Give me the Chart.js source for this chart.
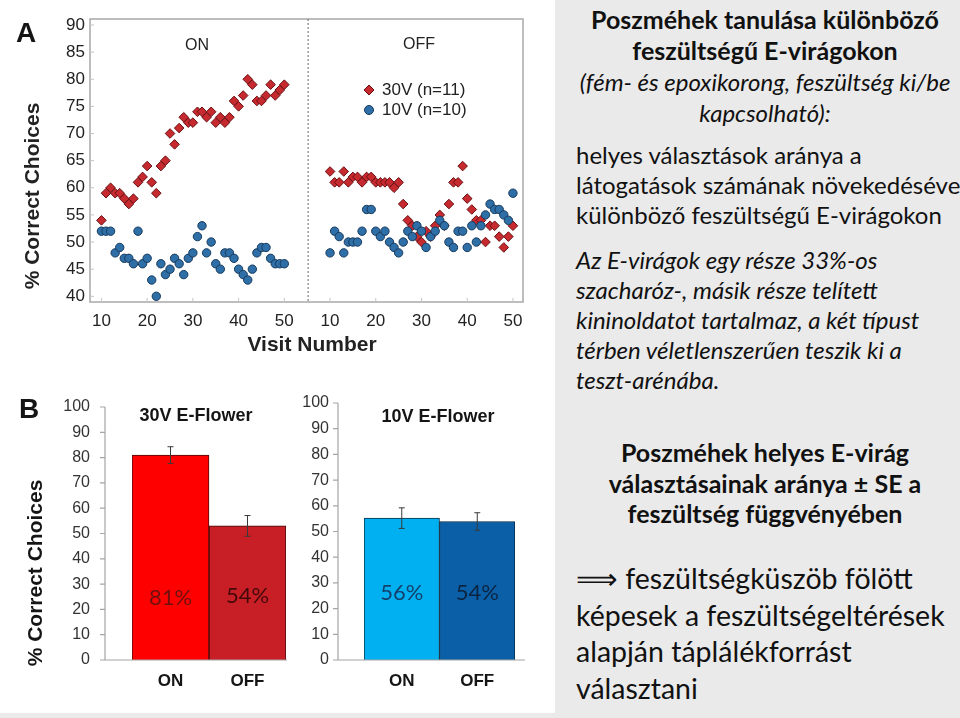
<!DOCTYPE html>
<html>
<head>
<meta charset="utf-8">
<script src="https://cdn.jsdelivr.net/npm/chart.js@4.4.0/dist/chart.umd.min.js"></script>
<style>
html, body { margin: 0; padding: 0; }
body { width: 960px; height: 718px; background: #eaeaea; position: relative; overflow: hidden; font-family: Lato, sans-serif; color: #111; }
#left { position: absolute; left: 0; top: 0; width: 555px; height: 713px; background: #fff; }
canvas { position: absolute; }
.panel { position: absolute; font-family: "Liberation Sans", Arial, sans-serif; font-weight: bold; font-size: 28px; color: #151515; }
.txt { position: absolute; white-space: nowrap; }
</style>
</head>
<body>
<div id="left"></div>
<canvas id="scatter" width="550" height="365" style="left:0;top:0"></canvas>
<canvas id="bar30" width="290" height="333" style="left:0;top:380px"></canvas>
<canvas id="bar10" width="270" height="333" style="left:280px;top:380px"></canvas>
<div class="panel" style="left:16px;top:17px">A</div>
<div class="panel" style="left:19px;top:393px">B</div>

<div class="txt" style="left:570px;top:4px;width:390px;text-align:center;font-size:24px;line-height:31px;">
<b style="font-size:25px">Poszméhek tanulása különböző<br>feszültségű E-virágokon</b><br>
<i>(fém- és epoxikorong, feszültség ki/be<br>kapcsolható):</i>
</div>
<div class="txt" style="left:576px;top:140px;font-size:24px;line-height:30px;">
helyes választások aránya a<br>látogatások számának növekedésével<br>különböző feszültségű E-virágokon
</div>
<div class="txt" style="left:576px;top:245px;font-size:24px;line-height:30px;font-style:italic;">
Az E-virágok egy része 33%-os<br>szacharóz-, másik része telített<br>kininoldatot tartalmaz, a két típust<br>térben véletlenszerűen teszik ki a<br>teszt-arénába.
</div>
<div class="txt" style="left:570px;top:437px;width:390px;text-align:center;font-size:25px;line-height:30.5px;font-weight:bold;">
Poszméhek helyes E-virág<br>választásainak aránya ± SE a<br>feszültség függvényében
</div>
<div class="txt" style="left:576px;top:560px;font-size:28.5px;line-height:36.7px;">
⟹ feszültségküszöb fölött<br>képesek a feszültségeltérések<br>alapján táplálékforrást<br>választani
</div>

<script>
// ---- panel A data: % correct choices per visit ----
const visits = [10,11,12,13,14,15,16,17,18,19,20,21,22,23,24,25,26,27,28,29,30,
                31,32,33,34,35,36,37,38,39,40,41,42,43,44,45,46,47,48,49,50];
const on30  = [54,59,60,59,59,58,57,58,61,62,64,61,59,64,65,70,68,71,73,72,72,
               74,74,73,74,72,73,72,73,76,75,77,80,79,76,76,77,79,77,78,79];
const on10  = [52,52,52,48,49,47,47,46,52,46,47,43,40,46,44,45,47,46,44,47,48,
               51,53,48,50,46,45,48,48,47,45,44,43,45,48,49,49,47,46,46,46];
const off30 = [63,61,61,63,61,62,62,61,62,62,61,61,61,61,60,61,57,54,53,51,50,
               52,51,53,55,53,57,61,61,64,58,56,54,54,50,53,53,51,49,51,53];
const off10 = [48,52,51,48,50,50,50,52,56,56,52,51,52,50,49,48,50,52,51,53,52,
               49,51,52,54,53,50,49,52,52,49,53,50,53,55,57,56,56,55,54,59];
const xTicks = [10,20,30,40,50,60,70,80,90,100];
const yTicks = [40,45,50,55,60,65,70,75,80,85,90];
const OFF_SHIFT = 50;     // OFF visits sit right of ON visits on one axis
const DIVIDER_AT = 55.2;

// ---- panel B data ----
const barCats = ['ON', 'OFF'];
const bar30 = [81, 53];
const err30 = [3.3, 4.1];
const pct30 = ['81%', '54%'];
const bar10 = [55.2, 53.9];
const err10 = [4, 3.4];
const pct10 = ['56%', '54%'];
const barTicks = [0,10,20,30,40,50,60,70,80,90,100];

Chart.defaults.font.family = '"Liberation Sans", Arial, sans-serif';
Chart.defaults.color = '#222';

const RED = '#c62a2f', RED_EDGE = '#6a1014';
const BLUE = '#2f6fa8', BLUE_EDGE = '#173a5c';

function pts(ys, shift){ return visits.map((v, i) => ({ x: v + shift, y: ys[i] })); }

// keep tick padding from growing the chart area
function noPad(s){ s.paddingTop = 0; s.paddingBottom = 0; s.paddingLeft = 0; s.paddingRight = 0; }

const scatterDecor = {
  id: 'scatterDecor',
  beforeDatasetsDraw(chart){
    const { ctx, chartArea: a, scales: { x, y } } = chart;
    ctx.save();
    ctx.strokeStyle = '#a8a8a8'; ctx.lineWidth = 1.5;
    ctx.strokeRect(a.left, a.top, a.right - a.left, a.bottom - a.top);
    ctx.lineWidth = 1; ctx.strokeStyle = '#c4c4c4';
    yTicks.forEach(v => {
      const py = y.getPixelForValue(v);
      ctx.beginPath(); ctx.moveTo(a.left, py); ctx.lineTo(a.left + 4, py); ctx.stroke();
    });
    xTicks.forEach(v => {
      const px = x.getPixelForValue(v);
      ctx.beginPath(); ctx.moveTo(px, a.bottom); ctx.lineTo(px, a.bottom - 4); ctx.stroke();
    });
    const dx = x.getPixelForValue(DIVIDER_AT);
    ctx.setLineDash([2, 2]); ctx.strokeStyle = '#666';
    ctx.beginPath(); ctx.moveTo(dx, a.top); ctx.lineTo(dx, a.bottom); ctx.stroke();
    ctx.restore();
  },
  afterDraw(chart){
    const { ctx } = chart;
    ctx.save();
    ctx.fillStyle = '#222';
    ctx.textAlign = 'center'; ctx.textBaseline = 'middle';
    ctx.font = '16px "Liberation Sans", Arial';
    ctx.fillText('ON', 197, 46);
    ctx.fillText('OFF', 419, 45);
    ctx.font = 'bold 21px "Liberation Sans", Arial';
    ctx.fillText('Visit Number', 312, 345);
    ctx.save();
    ctx.translate(33, 196); ctx.rotate(-Math.PI / 2);
    ctx.fillText('% Correct Choices', 0, 0);
    ctx.restore();
    // legend
    ctx.fillStyle = RED; ctx.strokeStyle = RED_EDGE; ctx.lineWidth = 1;
    ctx.beginPath(); ctx.moveTo(369, 85); ctx.lineTo(374, 90); ctx.lineTo(369, 95); ctx.lineTo(364, 90); ctx.closePath();
    ctx.fill(); ctx.stroke();
    ctx.fillStyle = BLUE; ctx.strokeStyle = BLUE_EDGE;
    ctx.beginPath(); ctx.arc(369, 110, 4.5, 0, Math.PI * 2); ctx.fill(); ctx.stroke();
    ctx.fillStyle = '#222'; ctx.textAlign = 'left';
    ctx.font = '17px "Liberation Sans", Arial';
    ctx.fillText('30V (n=11)', 382, 90);
    ctx.fillText('10V (n=10)', 382, 110);
    ctx.restore();
  }
};

const redStyle = { pointStyle: 'rectRot', pointRadius: 4.8, backgroundColor: RED, borderColor: RED_EDGE, borderWidth: 1, order: 2 };
const blueStyle = { pointStyle: 'circle', pointRadius: 4.2, backgroundColor: BLUE, borderColor: BLUE_EDGE, borderWidth: 1, order: 1 };

new Chart(document.getElementById('scatter'), {
  type: 'scatter',
  data: {
    datasets: [
      Object.assign({ label: '30V ON', data: pts(on30, 0) }, redStyle),
      Object.assign({ label: '30V OFF', data: pts(off30, OFF_SHIFT) }, redStyle),
      Object.assign({ label: '10V ON', data: pts(on10, 0) }, blueStyle),
      Object.assign({ label: '10V OFF', data: pts(off10, OFF_SHIFT) }, blueStyle)
    ]
  },
  options: {
    responsive: false, animation: false,
    layout: { padding: { top: 19, right: 27, left: 0, bottom: 0 } },
    plugins: { legend: { display: false }, tooltip: { enabled: false } },
    scales: {
      x: {
        type: 'linear', min: 7.5, max: 102.2,
        grid: { display: false, drawTicks: false }, border: { display: false },
        afterBuildTicks: s => { s.ticks = xTicks.map(v => ({ value: v })); },
        afterFit: s => { s.height = 63; noPad(s); },
        ticks: { padding: 9, autoSkip: false, maxRotation: 0, font: { size: 17 }, color: '#222',
                 callback: v => v > DIVIDER_AT ? v - OFF_SHIFT : v }
      },
      y: {
        min: 38.95, max: 91.1,
        grid: { display: false, drawTicks: false }, border: { display: false },
        afterBuildTicks: s => { s.ticks = yTicks.map(v => ({ value: v })); },
        afterFit: s => { s.width = 90; noPad(s); },
        ticks: { padding: 5, autoSkip: false, font: { size: 17 }, color: '#222' }
      }
    }
  },
  plugins: [scatterDecor]
});

function makeBarDecor(cfg){
  return {
    id: 'barDecor',
    afterDatasetsDraw(chart){
      const { ctx, chartArea: a, scales: { y } } = chart;
      const ds = chart.data.datasets[0];
      const meta = chart.getDatasetMeta(0);
      ctx.save();
      // axes
      ctx.strokeStyle = '#a5a5a5'; ctx.lineWidth = 1.2;
      ctx.beginPath();
      ctx.moveTo(cfg.axisX, y.getPixelForValue(100)); ctx.lineTo(cfg.axisX, a.bottom);
      ctx.moveTo(cfg.axisX - 5, a.bottom); ctx.lineTo(cfg.baseEnd, a.bottom);
      barTicks.forEach(v => {
        const py = y.getPixelForValue(v);
        ctx.moveTo(cfg.axisX - 5, py); ctx.lineTo(cfg.axisX, py);
      });
      ctx.stroke();
      // error bars
      ctx.strokeStyle = '#3a3a3a'; ctx.lineWidth = 1;
      meta.data.forEach((bar, i) => {
        const v = ds.data[i], e = cfg.errors[i];
        const t = y.getPixelForValue(v + e), b = y.getPixelForValue(v - e);
        ctx.beginPath();
        ctx.moveTo(bar.x, t); ctx.lineTo(bar.x, b);
        ctx.moveTo(bar.x - 3, t); ctx.lineTo(bar.x + 3, t);
        ctx.moveTo(bar.x - 3, b); ctx.lineTo(bar.x + 3, b);
        ctx.stroke();
      });
      // percentage labels
      ctx.textAlign = 'center'; ctx.textBaseline = 'middle';
      ctx.font = '22px Lato, sans-serif';
      meta.data.forEach((bar, i) => {
        ctx.fillStyle = cfg.labelColors[i];
        ctx.fillText(cfg.labels[i], bar.x, a.bottom - cfg.labelLift[i]);
      });
      // title
      ctx.fillStyle = '#151515';
      ctx.font = 'bold 18px "Liberation Sans", Arial';
      ctx.fillText(cfg.title, cfg.titleX, cfg.titleY);
      if (cfg.yTitle) {
        ctx.font = 'bold 21px "Liberation Sans", Arial';
        ctx.translate(cfg.yTitle[0], cfg.yTitle[1]); ctx.rotate(-Math.PI / 2);
        ctx.fillText('% Correct Choices', 0, 0);
      }
      ctx.restore();
    }
  };
}

function barChart(id, values, colors, edges, cfg){
  return new Chart(document.getElementById(id), {
    type: 'bar',
    data: {
      labels: barCats,
      datasets: [{ data: values, backgroundColor: colors, borderColor: edges, borderWidth: 1,
                   barPercentage: 1, categoryPercentage: 1 }]
    },
    options: {
      responsive: false, animation: false,
      layout: { padding: { top: cfg.top, right: cfg.right, left: 0, bottom: 0 } },
      plugins: { legend: { display: false }, tooltip: { enabled: false } },
      scales: {
        x: {
          grid: { display: false, drawTicks: false }, border: { display: false },
          afterFit: s => { s.height = 53; noPad(s); },
          ticks: { padding: 11, font: { size: 17, weight: 'bold' }, color: '#151515' }
        },
        y: {
          min: 0, max: 100,
          grid: { display: false, drawTicks: false }, border: { display: false },
          afterBuildTicks: s => { s.ticks = barTicks.map(v => ({ value: v })); },
          afterFit: s => { s.width = cfg.yWidth; noPad(s); },
          ticks: { padding: cfg.tickPad, font: { size: 16 }, color: '#333' }
        }
      }
    },
    plugins: [makeBarDecor(cfg)]
  });
}

barChart('bar30', bar30, ['#ff0000', '#c81f26'], ['#4a0b0b', '#3d0a0a'], {
  top: 27, right: 4, yWidth: 132, tickPad: 42, axisX: 105, baseEnd: 287,
  errors: err30, labels: pct30, labelColors: ['#6e1010', '#430909'], labelLift: [62, 64],
  title: '30V E-Flower', titleX: 196, titleY: 36, yTitle: [36, 193]
});
barChart('bar10', bar10, ['#00b0f0', '#0b5fa6'], ['#0d2c46', '#0a2238'], {
  top: 23, right: 35, yWidth: 84, tickPad: 35, axisX: 58, baseEnd: 245,
  errors: err10, labels: pct10, labelColors: ['#14416c', '#0b2442'], labelLift: [67, 67],
  title: '10V E-Flower', titleX: 158, titleY: 37, yTitle: null
});
</script>
</body>
</html>
